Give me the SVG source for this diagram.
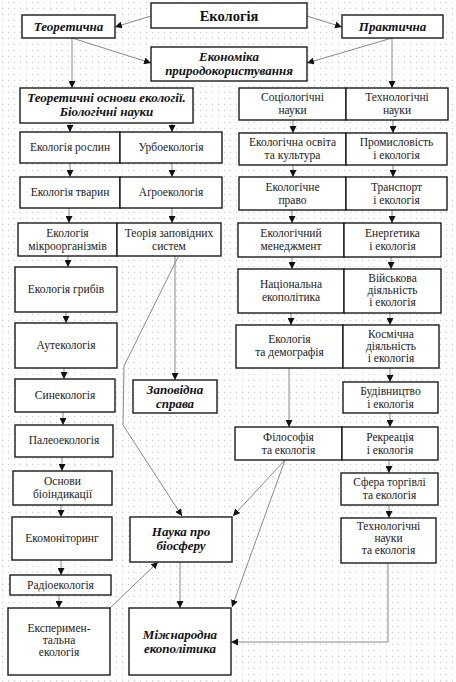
<svg xmlns="http://www.w3.org/2000/svg" width="456" height="682" viewBox="0 0 456 682" font-family="'Liberation Serif', serif">
<defs>
<pattern id="dots" width="6" height="6" patternUnits="userSpaceOnUse"><rect x="2" y="2" width="1" height="1" fill="#c8c8c8"/></pattern>
<marker id="ah" viewBox="0 0 8 8" refX="8" refY="4" markerWidth="7" markerHeight="7" markerUnits="userSpaceOnUse" orient="auto"><path d="M0,0 L8,4 L0,8 Z" fill="#111"/></marker>
</defs>
<style>
.b{fill:#fff;stroke:#1a1a1a;stroke-width:1.4}
.t{font-size:11.5px;fill:#1a1a1a;text-anchor:middle}
.h{font-size:13px;font-weight:bold;font-style:italic;fill:#111;text-anchor:middle}
.m{font-size:14.5px;font-weight:bold;fill:#111;text-anchor:middle}
.c{fill:none;stroke:#888;stroke-width:1;marker-end:url(#ah)}
</style>
<rect width="456" height="682" fill="#fff"/>
<rect width="456" height="682" fill="url(#dots)"/>

<g id="connectors">
<line class="c" x1="151" y1="16" x2="115" y2="27"/>
<line class="c" x1="307" y1="16" x2="342" y2="27"/>
<line class="c" x1="72" y1="38" x2="151" y2="63"/>
<line class="c" x1="392" y1="38" x2="307" y2="63"/>
<line class="c" x1="72" y1="38" x2="72" y2="88"/>
<line class="c" x1="392" y1="38" x2="392" y2="88"/>
<line class="c" x1="70" y1="123" x2="70" y2="132"/>
<line class="c" x1="172" y1="123" x2="172" y2="132"/>
<line class="c" x1="70" y1="163" x2="70" y2="177"/>
<line class="c" x1="172" y1="163" x2="172" y2="177"/>
<line class="c" x1="69" y1="208" x2="69" y2="223"/>
<line class="c" x1="172" y1="208" x2="172" y2="223"/>
<line class="c" x1="68" y1="256" x2="68" y2="267"/>
<line class="c" x1="66" y1="312" x2="66" y2="323"/>
<line class="c" x1="64" y1="368" x2="64" y2="379"/>
<line class="c" x1="63" y1="412" x2="63" y2="425"/>
<line class="c" x1="62" y1="457" x2="62" y2="471"/>
<line class="c" x1="61" y1="505" x2="61" y2="517"/>
<line class="c" x1="61" y1="560" x2="61" y2="575"/>
<line class="c" x1="59" y1="595" x2="59" y2="608"/>
<line class="c" x1="175" y1="256" x2="175" y2="380"/>
<polyline class="c" points="178,257 124,366 123,425 182,516"/>
<line class="c" x1="110" y1="608" x2="158" y2="562"/>
<line class="c" x1="180" y1="562" x2="180" y2="608"/>
<line class="c" x1="285" y1="460" x2="233" y2="516"/>
<line class="c" x1="285" y1="460" x2="232" y2="607"/>
<polyline class="c" points="388,563 388,642 231,642"/>
<line class="c" x1="293" y1="120" x2="293" y2="133"/>
<line class="c" x1="393" y1="120" x2="393" y2="133"/>
<line class="c" x1="293" y1="165" x2="293" y2="177"/>
<line class="c" x1="393" y1="165" x2="393" y2="177"/>
<line class="c" x1="292" y1="210" x2="292" y2="223"/>
<line class="c" x1="392" y1="210" x2="392" y2="223"/>
<line class="c" x1="292" y1="257" x2="292" y2="269"/>
<line class="c" x1="391" y1="257" x2="391" y2="269"/>
<line class="c" x1="291" y1="313" x2="291" y2="325"/>
<line class="c" x1="390" y1="313" x2="390" y2="325"/>
<line class="c" x1="390" y1="368" x2="390" y2="382"/>
<line class="c" x1="289" y1="368" x2="289" y2="427"/>
<line class="c" x1="390" y1="413" x2="390" y2="427"/>
<line class="c" x1="389" y1="460" x2="389" y2="473"/>
<line class="c" x1="389" y1="505" x2="389" y2="518"/>
</g>

<g id="ekolohiia"><rect class="b" x="151" y="3" width="156" height="25"/><text class="m" x="229" y="20.5">Екологія</text></g>
<g id="teoretychna"><rect class="b" x="22" y="15" width="93" height="23"/><text class="h" x="68.5" y="31">Теоретична</text></g>
<g id="praktychna"><rect class="b" x="342" y="15" width="101" height="23"/><text class="h" x="392.5" y="31">Практична</text></g>
<g id="ekonomika"><rect class="b" x="151" y="47" width="156" height="34"/><text class="h" x="229" y="61">Економіка</text><text class="h" x="229" y="75">природокористування</text></g>

<g id="teor-osnovy"><rect class="b" x="20" y="88" width="173" height="35"/><text class="h" x="106.5" y="102">Теоретичні основи екології.</text><text class="h" x="106.5" y="116">Біологічні науки</text></g>
<g id="roslyn"><rect class="b" x="20" y="132" width="100" height="31"/><text class="t" x="70" y="151">Екологія рослин</text></g>
<g id="urbo"><rect class="b" x="120" y="132" width="102" height="31"/><text class="t" x="171" y="151">Урбоекологія</text></g>
<g id="tvaryn"><rect class="b" x="20" y="177" width="100" height="31"/><text class="t" x="70" y="196">Екологія тварин</text></g>
<g id="ahro"><rect class="b" x="120" y="177" width="102" height="31"/><text class="t" x="171" y="196">Аґроекологія</text></g>
<g id="mikro"><rect class="b" x="18" y="223" width="99" height="33"/><text class="t" x="67.5" y="237">Екологія</text><text class="t" x="67.5" y="249.5">мікроорганізмів</text></g>
<g id="teoriia-zapov"><rect class="b" x="117" y="223" width="104" height="33"/><text class="t" x="169" y="237">Теорія заповідних</text><text class="t" x="169" y="249.5">систем</text></g>
<g id="hrybiv"><rect class="b" x="15" y="267" width="102" height="45"/><text class="t" x="66" y="293">Екологія грибів</text></g>
<g id="aut"><rect class="b" x="15" y="323" width="102" height="45"/><text class="t" x="66" y="349">Аутекологія</text></g>
<g id="syn"><rect class="b" x="15" y="379" width="100" height="33"/><text class="t" x="65" y="399">Синекологія</text></g>
<g id="paleo"><rect class="b" x="15" y="425" width="98" height="32"/><text class="t" x="64" y="444">Палеоекологія</text></g>
<g id="bioind"><rect class="b" x="13" y="471" width="99" height="34"/><text class="t" x="62.5" y="485">Основи</text><text class="t" x="62.5" y="498">біоіндикації</text></g>
<g id="monitor"><rect class="b" x="12" y="517" width="100" height="43"/><text class="t" x="62" y="542">Екомоніторинг</text></g>
<g id="radio"><rect class="b" x="10" y="575" width="101" height="20"/><text class="t" x="60.5" y="589">Радіоекологія</text></g>
<g id="eksper"><rect class="b" x="8" y="608" width="102" height="67"/><text class="t" x="59" y="632">Експеримен-</text><text class="t" x="59" y="644">тальна</text><text class="t" x="59" y="656">екологія</text></g>
<g id="zapov-sprava"><rect class="b" x="133" y="380" width="84" height="33"/><text class="h" x="175" y="394">Заповідна</text><text class="h" x="175" y="407.5">справа</text></g>
<g id="biosfera"><rect class="b" x="130" y="517" width="102" height="45"/><text class="h" x="181" y="536">Наука про</text><text class="h" x="181" y="550">біосферу</text></g>
<g id="mizhnar"><rect class="b" x="129" y="608" width="102" height="67"/><text class="h" x="180" y="639">Міжнародна</text><text class="h" x="180" y="653">екополітика</text></g>

<g id="sotsio"><rect class="b" x="239" y="88" width="107" height="32"/><text class="t" x="292.5" y="101">Соціологічні</text><text class="t" x="292.5" y="113.5">науки</text></g>
<g id="tekhno"><rect class="b" x="346" y="88" width="102" height="32"/><text class="t" x="397" y="101">Технологічні</text><text class="t" x="397" y="113.5">науки</text></g>
<g id="osvita"><rect class="b" x="239" y="133" width="107" height="32"/><text class="t" x="292.5" y="146">Екологічна освіта</text><text class="t" x="292.5" y="158.5">та культура</text></g>
<g id="promysl"><rect class="b" x="346" y="133" width="101" height="32"/><text class="t" x="396.5" y="146">Промисловість</text><text class="t" x="396.5" y="158.5">і екологія</text></g>
<g id="pravo"><rect class="b" x="239" y="177" width="107" height="33"/><text class="t" x="292.5" y="191">Екологічне</text><text class="t" x="292.5" y="203.5">право</text></g>
<g id="transport"><rect class="b" x="346" y="177" width="101" height="33"/><text class="t" x="396.5" y="191">Транспорт</text><text class="t" x="396.5" y="203.5">і екологія</text></g>
<g id="menedzh"><rect class="b" x="238" y="223" width="106" height="34"/><text class="t" x="291" y="237">Екологічний</text><text class="t" x="291" y="249.5">менеджмент</text></g>
<g id="enerh"><rect class="b" x="344" y="223" width="97" height="34"/><text class="t" x="392.5" y="237">Енерґетика</text><text class="t" x="392.5" y="249.5">і екологія</text></g>
<g id="natsion"><rect class="b" x="238" y="269" width="106" height="44"/><text class="t" x="291" y="288">Національна</text><text class="t" x="291" y="300.5">екополітика</text></g>
<g id="viisk"><rect class="b" x="344" y="269" width="97" height="44"/><text class="t" x="392.5" y="282">Військова</text><text class="t" x="392.5" y="294">діяльність</text><text class="t" x="392.5" y="306">і екологія</text></g>
<g id="demohr"><rect class="b" x="236" y="325" width="107" height="43"/><text class="t" x="289.5" y="343">Екологія</text><text class="t" x="289.5" y="355.5">та демографія</text></g>
<g id="kosm"><rect class="b" x="343" y="325" width="96" height="43"/><text class="t" x="391" y="338">Космічна</text><text class="t" x="391" y="350">діяльність</text><text class="t" x="391" y="362">і екологія</text></g>
<g id="budivn"><rect class="b" x="343" y="382" width="95" height="31"/><text class="t" x="390.5" y="395">Будівництво</text><text class="t" x="390.5" y="407.5">і екологія</text></g>
<g id="filos"><rect class="b" x="235" y="427" width="107" height="33"/><text class="t" x="288.5" y="441">Філософія</text><text class="t" x="288.5" y="453.5">та екологія</text></g>
<g id="rekreats"><rect class="b" x="342" y="427" width="96" height="33"/><text class="t" x="390" y="441">Рекреація</text><text class="t" x="390" y="453.5">і екологія</text></g>
<g id="torhivl"><rect class="b" x="341" y="473" width="97" height="32"/><text class="t" x="389.5" y="486">Сфера торгівлі</text><text class="t" x="389.5" y="498.5">та екологія</text></g>
<g id="tekhn-ek"><rect class="b" x="341" y="518" width="95" height="45"/><text class="t" x="388.5" y="530">Технологічні</text><text class="t" x="388.5" y="542">науки</text><text class="t" x="388.5" y="554">та екологія</text></g>
</svg>
